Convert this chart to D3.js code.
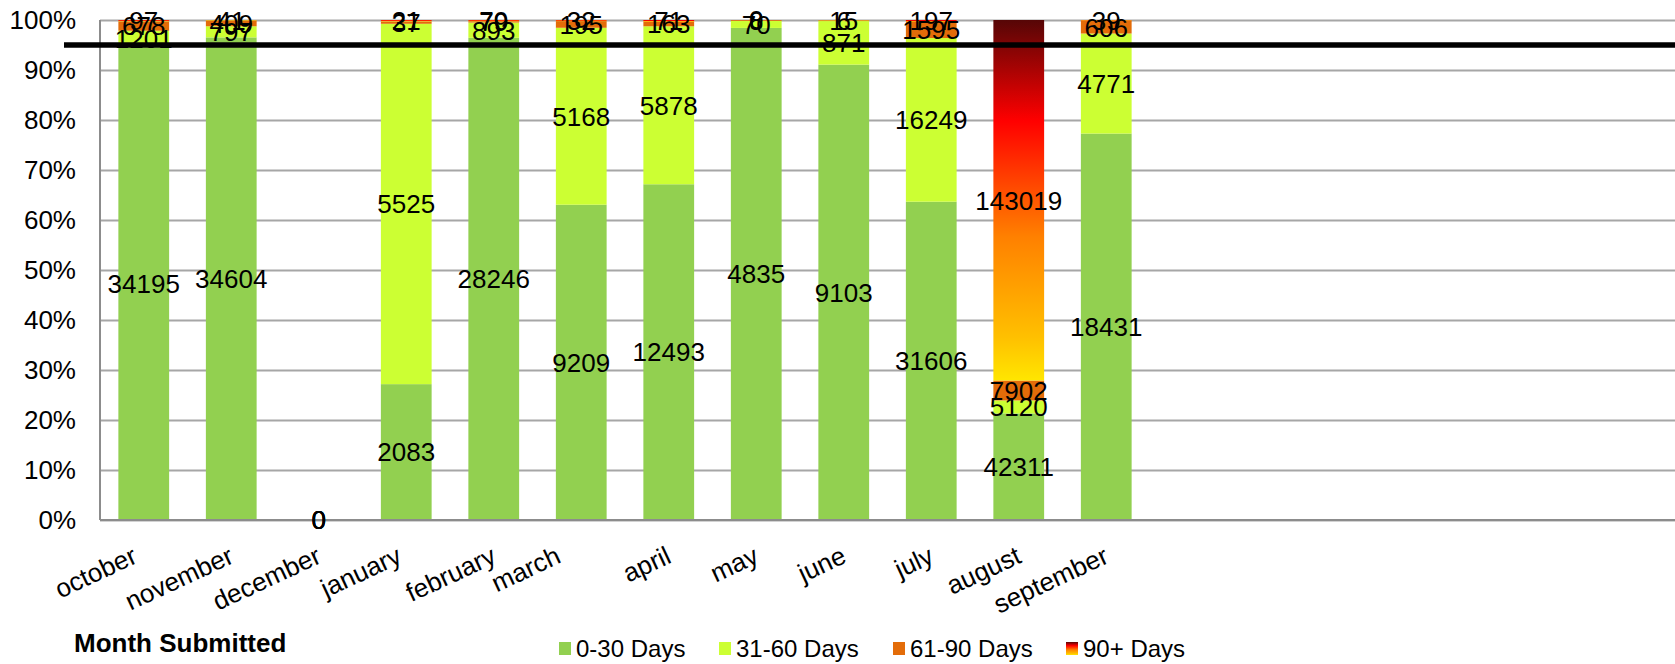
<!DOCTYPE html>
<html>
<head>
<meta charset="utf-8">
<script src="https://cdn.jsdelivr.net/npm/d3@7"></script>
<style>
  html, body { margin: 0; padding: 0; background: #fff; }
  svg { display: block; font-family: "Liberation Sans", Arial, sans-serif; }
</style>
</head>
<body>
<svg id="chart" width="1675" height="664"></svg>
<script>
// ---- data ----
const months = ["october","november","december","january","february","march","april","may","june","july","august","september"];
const seriesNames = ["0-30 Days","31-60 Days","61-90 Days","90+ Days"];
const days0_30  = [34195, 34604, 0, 2083, 28246, 9209, 12493, 4835, 9103, 31606, 42311, 18431];
const days31_60 = [1201, 797, 0, 5525, 893, 5168, 5878, 70, 871, 16249, 5120, 4771];
const days61_90 = [678, 409, 0, 37, 79, 195, 163, 8, 15, 1595, 7902, 606];
const days90p   = [97, 41, 0, 21, 70, 32, 71, 0, 6, 197, 143019, 39];
const yTicks = [0, 0.1, 0.2, 0.3, 0.4, 0.5, 0.6, 0.7, 0.8, 0.9, 1.0];
const targetLevel = 0.95;
const xTitle = "Month Submitted";

(function () {
// ---- layout ----
const plotLeft = 100, plotRight = 1675, plotTop = 20, plotBottom = 520;
const slot = 87.5;
// small horizontal nudges of the rotated month labels (layout only)
const labelNudge = {october: -9, january: -7, march: -23};

const svg = d3.select("#chart");

const defs = svg.append("defs");
const grad = defs.append("linearGradient")
  .attr("id", "g90").attr("x1", 0).attr("y1", 1).attr("x2", 0).attr("y2", 0);
[[0, "#FFE600"], [0.12, "#FFC000"], [0.4, "#FF8000"], [0.72, "#FF0000"], [1, "#560606"]]
  .forEach(([o, c]) => grad.append("stop").attr("offset", o).attr("stop-color", c));

const colors = ["#92D050", "#CCFF33", "#E36C09", "url(#g90)"];

const table = months.map((m, i) => ({
  month: m,
  "0-30 Days": days0_30[i],
  "31-60 Days": days31_60[i],
  "61-90 Days": days61_90[i],
  "90+ Days": days90p[i]
}));

const stacked = d3.stack().keys(seriesNames).offset(d3.stackOffsetExpand)(table);

const x = d3.scaleBand().domain(months)
  .range([plotLeft, plotLeft + months.length * slot])
  .paddingInner(0.42).paddingOuter(0.21);
const y = d3.scaleLinear().domain([0, 1]).range([plotBottom, plotTop]);

// gridlines
const grid = svg.append("g").attr("transform", `translate(${plotLeft},0)`)
  .call(d3.axisLeft(y).tickValues(yTicks).tickSize(-(plotRight - plotLeft)).tickFormat(""));
grid.select(".domain").remove();
grid.selectAll("line").attr("stroke", "#A6A6A6").attr("stroke-width", 2);

// y axis labels
const yAxis = svg.append("g").attr("transform", `translate(${plotLeft},0)`)
  .call(d3.axisLeft(y).tickValues(yTicks).tickSize(0).tickPadding(24).tickFormat(d3.format(".0%")));
yAxis.select(".domain").remove();
yAxis.selectAll("text").attr("font-size", 26).attr("fill", "#000")
  .attr("font-family", "Liberation Sans, Arial, sans-serif");

// bars
const layers = svg.append("g").selectAll("g").data(stacked).join("g")
  .attr("fill", (d, i) => colors[i]);
layers.selectAll("rect").data(d => d).join("rect")
  .attr("x", d => x(d.data.month))
  .attr("width", x.bandwidth())
  .attr("y", d => y(d[1]))
  .attr("height", d => Math.max(0, y(d[0]) - y(d[1])));

// axes lines
svg.append("line").attr("x1", plotLeft).attr("x2", plotLeft).attr("y1", plotTop).attr("y2", plotBottom)
  .attr("stroke", "#8C8C8C").attr("stroke-width", 2);
svg.append("line").attr("x1", plotLeft).attr("x2", plotRight).attr("y1", plotBottom).attr("y2", plotBottom)
  .attr("stroke", "#8C8C8C").attr("stroke-width", 2);

// x axis labels
const xAxis = svg.append("g").attr("transform", `translate(0,${plotBottom})`)
  .call(d3.axisBottom(x).tickSize(0));
xAxis.select(".domain").remove();
xAxis.selectAll("text")
  .attr("font-size", 26).attr("fill", "#000")
  .attr("font-family", "Liberation Sans, Arial, sans-serif")
  .attr("text-anchor", "end")
  .attr("y", 0).attr("dy", 0)
  .attr("transform", d => `translate(${4 + (labelNudge[d] || 0)},42) rotate(-25)`);

// data labels
const labels = svg.append("g");
stacked.forEach(s => {
  labels.append("g").selectAll("text").data(s).join("text")
    .attr("x", d => x(d.data.month) + x.bandwidth() / 2)
    .attr("y", d => y((d[0] + d[1]) / 2))
    .attr("dy", "0.36em")
    .attr("text-anchor", "middle")
    .attr("font-size", 26)
    .attr("fill", "#000")
    .text(d => d.data[s.key]);
});

// target line
svg.append("line").attr("x1", 64).attr("x2", plotRight).attr("y1", y(targetLevel)).attr("y2", y(targetLevel))
  .attr("stroke", "#000").attr("stroke-width", 5.5);

// x title
svg.append("text").attr("x", 74).attr("y", 652)
  .attr("font-size", 26).attr("font-weight", "bold").attr("fill", "#000")
  .text(xTitle);

// legend
const legendX = [559, 719, 893, 1066];
const legend = svg.append("g");
seriesNames.forEach((n, i) => {
  legend.append("rect").attr("x", legendX[i]).attr("y", 642).attr("width", 12).attr("height", 13)
    .attr("fill", colors[i]);
  legend.append("text").attr("x", legendX[i] + 17).attr("y", 648.5).attr("dy", "0.36em")
    .attr("font-size", 24).attr("fill", "#000").text(n);
});
})();
</script>
</body>
</html>
